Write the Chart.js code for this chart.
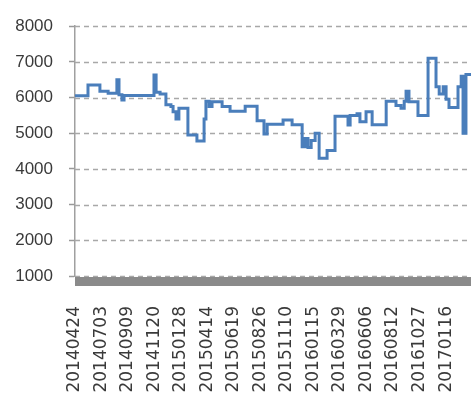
<!DOCTYPE html>
<html>
<head>
<meta charset="utf-8">
<script src="https://cdn.jsdelivr.net/npm/chart.js@4/dist/chart.umd.min.js"></script>
<style>
  html, body { margin: 0; padding: 0; background: #fff; }
  #wrap { width: 471px; height: 410px; }
</style>
</head>
<body>
<div id="wrap"><canvas id="myChart" width="471" height="410"></canvas></div>
<script>
// tick labels on the x axis, one per whole step of xs
const dateLabels = ['20140424', '20140703', '20140909', '20141120', '20150128', '20150414', '20150619',
  '20150826', '20151110', '20160115', '20160329', '20160606', '20160812', '20161027', '20170116'];

// step line: where each level starts (in label steps) and its value
const xs = [0, 0.49, 0.94, 1.25, 1.58, 1.66, 1.77, 1.85, 2.98, 3.06, 3.21, 3.43, 3.62, 3.70, 3.81, 3.92,
  4.26, 4.60, 4.87, 4.94, 5.06, 5.17, 5.55, 5.85, 6.42, 6.87, 7.13, 7.25, 7.85, 8.19, 8.57, 8.68, 8.79,
  8.91, 9.06, 9.21, 9.51, 9.81, 10.30, 10.38, 10.64, 10.75, 10.98, 11.21, 11.74, 12.11, 12.30, 12.42,
  12.49, 12.60, 12.94, 13.32, 13.62, 13.74, 13.89, 14.00, 14.11, 14.45, 14.57, 14.64, 14.75, 14.94];
const ys = [6050, 6350, 6180, 6120, 6500, 6080, 5930, 6060, 6630, 6150, 6100, 5800, 5750, 5600, 5400, 5700,
  4950, 4780, 5400, 5900, 5750, 5880, 5750, 5620, 5760, 5350, 4980, 5250, 5370, 5240, 4620, 4850, 4600,
  4800, 5000, 4300, 4520, 5480, 5230, 5500, 5550, 5320, 5600, 5240, 5900, 5780, 5700, 5900,
  6180, 5880, 5500, 7100, 6300, 6100, 6300, 5950, 5720, 6300, 6600, 5000, 6650, 6650];

const yTicks = [1000, 2000, 3000, 4000, 5000, 6000, 7000, 8000];

const points = xs.map((x, i) => ({ x: x, y: ys[i] }));

// dashed grid lines at the y ticks, and the grey band under the bottom axis
const gridAndBand = {
  id: 'gridAndBand',
  beforeDatasetsDraw(chart) {
    const a = chart.chartArea;
    const y = chart.scales.y;
    const ctx = chart.ctx;
    ctx.save();
    ctx.strokeStyle = '#a8a8a8';
    ctx.lineWidth = 1.5;
    ctx.setLineDash([5, 4]);
    yTicks.forEach(v => {
      const py = Math.round(y.getPixelForValue(v)) + 0.5;
      ctx.beginPath();
      ctx.moveTo(a.left, py);
      ctx.lineTo(a.right, py);
      ctx.stroke();
    });
    ctx.restore();
  },
  afterDraw(chart) {
    const a = chart.chartArea;
    const ctx = chart.ctx;
    ctx.save();
    ctx.fillStyle = '#8a8a8a';
    ctx.fillRect(a.left, a.bottom + 1, a.right - a.left, 9);
    ctx.restore();
  }
};

const ctx = document.getElementById('myChart').getContext('2d');
new Chart(ctx, {
  type: 'line',
  data: {
    datasets: [{
      data: points,
      borderColor: '#4a7ebb',
      borderWidth: 3,
      pointRadius: 0,
      stepped: true,
      fill: false
    }]
  },
  options: {
    responsive: false,
    animation: false,
    layout: { padding: { top: 15, right: 0, left: 0, bottom: 0 } },
    plugins: { legend: { display: false }, tooltip: { enabled: false } },
    scales: {
      x: {
        type: 'linear',
        min: 0,
        max: 14.94,
        afterFit: s => { s.height = 134; s.paddingLeft = 0; s.paddingRight = 0; },
        grid: { display: false, drawTicks: false },
        border: { display: false },
        ticks: {
          stepSize: 1,
          autoSkip: false,
          minRotation: 90,
          maxRotation: 90,
          padding: 30,
          color: '#3a3a3a',
          font: { family: 'DejaVu Sans', size: 17 },
          callback: v => Number.isInteger(v) ? (dateLabels[v] || '') : ''
        }
      },
      y: {
        min: yTicks[0],
        max: yTicks[yTicks.length - 1],
        afterFit: s => { s.width = 75; },
        afterBuildTicks: s => { s.ticks = yTicks.map(v => ({ value: v })); },
        grid: { drawOnChartArea: false, tickLength: 6, tickColor: '#999', tickWidth: 1.5 },
        border: { display: true, color: '#a0a0a0', width: 1.5 },
        ticks: {
          padding: 16,
          color: '#3a3a3a',
          font: { family: 'Liberation Sans', size: 17 },
          callback: v => String(v)
        }
      }
    }
  },
  plugins: [gridAndBand]
});
</script>
</body>
</html>
